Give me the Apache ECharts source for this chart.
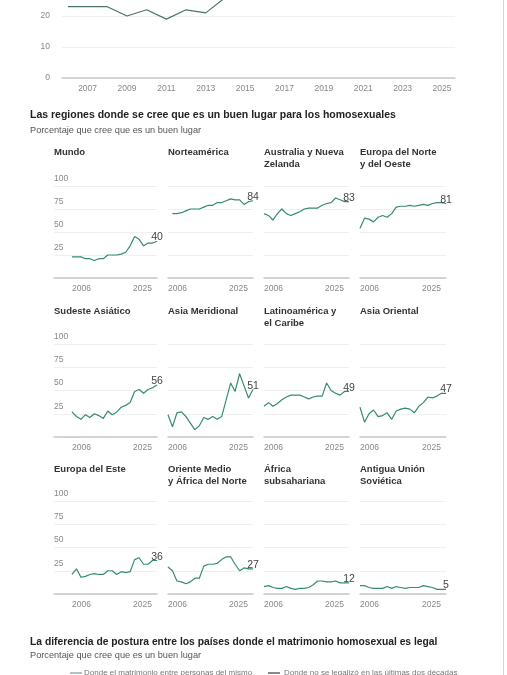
<!DOCTYPE html>
<html>
<head>
<meta charset="UTF-8">
<title>Las regiones donde se cree que es un buen lugar para los homosexuales</title>
<script src="https://cdn.jsdelivr.net/npm/echarts@6/dist/echarts.min.js"></script>
<style>
    html, body { margin: 0; padding: 0; background: #fff; }
    #chart { width: 507px; height: 675px; }
</style>
</head>
<body>
<div id="chart"></div>
<script>
    // grafico superior (solo se ve la parte baja)
    var topYears = [2006, 2007, 2008, 2009, 2010, 2011, 2012, 2013, 2014, 2015, 2016, 2017, 2018, 2019, 2020, 2021, 2022, 2023, 2024];
    var topValues = [23, 23, 23, 20, 22, 19, 22, 21, 26, 29, 25.4, 25.5, 25.6, 28, 33, 37, 36, 37, 38];
    var topTicks = [2007, 2009, 2011, 2013, 2015, 2017, 2019, 2021, 2023, 2025];

    // paneles por region
    var years = [2006, 2007, 2008, 2009, 2010, 2011, 2012, 2013, 2014, 2015, 2016, 2017, 2018, 2019, 2020, 2021, 2022, 2023, 2024, 2025];
    var yTicks = [0, 25, 50, 75, 100];
    var regionNames = [
        'Mundo', 'Norteamérica', 'Australia y Nueva\nZelanda', 'Europa del Norte\ny del Oeste',
        'Sudeste Asiático', 'Asia Meridional', 'Latinoamérica y\nel Caribe', 'Asia Oriental',
        'Europa del Este', 'Oriente Medio\ny África del Norte', 'África\nsubsahariana', 'Antigua Unión\nSoviética'
    ];
    var mundo = [23, 23, 23, 21, 21, 19, 21, 21, 25, 25, 25, 26, 28, 35, 45, 42, 35, 38, 38, 40];
    var norteamerica = [null, 70, 70, 71, 73, 75, 75, 75, 77, 79, 79, 82, 82, 84, 86, 85, 85, 80, 83, 84];
    var australia = [70, 68, 63, 70, 75, 70, 68, 70, 72, 75, 76, 76, 76, 79, 81, 82, 87, 85, 83, 83];
    var europaNO = [54, 65, 64, 61, 66, 68, 66, 70, 77, 78, 78, 79, 78, 79, 80, 79, 81, 82, 82, 81];
    var sudeste = [27, 22, 19, 24, 21, 25, 23, 20, 28, 24, 27, 32, 34, 37, 49, 51, 47, 51, 53, 56];
    var asiaMeridional = [24, 11, 26, 27, 22, 15, 8, 12, 21, 19, 22, 19, 22, 40, 58, 49, 68, 55, 42, 51];
    var latinoamerica = [33, 37, 33, 36, 40, 43, 45, 45, 45, 43, 41, 43, 44, 44, 58, 50, 47, 45, 49, 49];
    var asiaOriental = [32, 16, 25, 29, 22, 23, 26, 19, 28, 30, 31, 30, 26, 33, 37, 43, 42, 44, 47, 47];
    var europaEste = [21, 27, 18, 19, 21, 22, 21, 21, 25, 25, 21, 24, 23, 24, 37, 39, 32, 32, 36, 36];
    var orienteMedio = [29, 25, 14, 13, 11, 13, 17, 17, 30, 32, 32, 33, 37, 40, 40, 32, 25, 28, 27, 27];
    var africaSub = [8, 9, 7, 6, 6, 8, 6, 5, 6, 6, 7, 10, 14, 14, 13, 13, 14, 12, 12, 12];
    var antiguaURSS = [9, 9, 7, 6, 6, 6, 8, 6, 8, 7, 6, 7, 7, 7, 9, 8, 7, 5, 5, 5];
    var regionValues = [mundo, norteamerica, australia, europaNO, sudeste, asiaMeridional,
        latinoamerica, asiaOriental, europaEste, orienteMedio, africaSub, antiguaURSS];

    var legendNames = ['Donde el matrimonio entre personas del mismo', 'Donde no se legalizó en las últimas dos décadas'];

    var font = "'Liberation Sans', Arial, sans-serif";
    var green = '#368d6d';
    var colLeft = [72, 168, 264, 360];
    var colWidth = [85, 85, 85, 86];
    var rowTop = [186, 344, 501];
    var rowHeight = [92, 93, 93];
    var titleTop = [147, 306, 464];
    var titleLeft = [54, 168, 264, 360];

    var myChart = echarts.init(document.getElementById('chart'));

    var grids = [], xAxes = [], yAxes = [], series = [], titles = [];
    function yearText(v) { return String(v); }

    // --- grafico superior ---
    grids.push({ left: 62, width: 393, top: -77, height: 155, outerBoundsMode: 'none' });
    xAxes.push({
        type: 'value', gridIndex: 0, min: 2005.7, max: 2025.66,
        splitLine: { show: false },
        axisTick: { show: false },
        axisLine: { lineStyle: { color: '#c8c8c8', width: 1.5 } },
        axisLabel: { customValues: topTicks, formatter: yearText, color: '#888', fontSize: 8.5, fontFamily: font, margin: 6 }
    });
    yAxes.push({
        type: 'value', gridIndex: 0, min: 0, max: 50, interval: 10,
        axisLine: { show: false }, axisTick: { show: false },
        splitLine: { lineStyle: { color: '#f0f0f0' } },
        axisLabel: { color: '#888', fontSize: 8.5, fontFamily: font, margin: 12 }
    });
    series.push({
        type: 'line', xAxisIndex: 0, yAxisIndex: 0,
        data: topYears.map(function (y, i) { return [y, topValues[i]]; }),
        showSymbol: false, silent: true,
        lineStyle: { color: '#4a746e', width: 1.2 }
    });

    // --- paneles ---
    regionValues.forEach(function (vals, k) {
        var row = Math.floor(k / 4), col = k % 4;
        var gi = grids.length;
        grids.push({ left: colLeft[col], width: colWidth[col], top: rowTop[row], height: rowHeight[row], outerBoundsMode: 'none' });
        xAxes.push({
            type: 'value', gridIndex: gi, min: 2006, max: 2025, interval: 19,
            splitLine: { show: false }, axisTick: { show: false },
            axisLine: { lineStyle: { color: '#c8c8c8', width: 1.5 } },
            axisLabel: {
                formatter: yearText,
                color: '#888', fontSize: 8.5, fontFamily: font, margin: 6,
                alignMinLabel: 'left', alignMaxLabel: 'right', padding: [0, 5, 0, 0]
            }
        });
        yAxes.push({
            type: 'value', gridIndex: gi, min: 0, max: 100, interval: 25,
            axisLine: { show: false }, axisTick: { show: false }, axisLabel: { show: false },
            splitLine: { lineStyle: { color: '#efefef' } }
        });
        var last = vals.length - 1;
        series.push({
            type: 'line', xAxisIndex: gi, yAxisIndex: gi, silent: true,
            showSymbol: true, symbol: 'circle', symbolSize: 0.5,
            itemStyle: { color: green },
            lineStyle: { color: green, width: 1.2 },
            data: vals.map(function (v, i) {
                if (i === last) {
                    return {
                        value: [years[i], v],
                        label: {
                            show: true, position: 'top', distance: -2,
                            color: '#444', fontSize: 10.5, fontFamily: font,
                            formatter: function (p) { return Math.round(p.value[1]); }
                        }
                    };
                }
                return [years[i], v];
            })
        });
        titles.push({
            text: regionNames[k], left: titleLeft[col], top: titleTop[row], padding: 0,
            textStyle: { fontSize: 9.5, fontWeight: 'bold', color: '#333', fontFamily: font, lineHeight: 11.5 }
        });

        // etiquetas del eje y en la primera columna
        if (col === 0) {
            var li = grids.length;
            grids.push({ left: 54, width: 18, top: rowTop[row], height: rowHeight[row], outerBoundsMode: 'none' });
            xAxes.push({
                type: 'value', gridIndex: li, min: 0, max: 1,
                splitLine: { show: false }, axisTick: { show: false }, axisLabel: { show: false },
                axisLine: { lineStyle: { color: '#c8c8c8', width: 1.5 } }
            });
            yAxes.push({
                type: 'value', gridIndex: li, min: yTicks[0], max: yTicks[yTicks.length - 1], interval: 25,
                axisLine: { show: false }, axisTick: { show: false },
                splitLine: { lineStyle: { color: '#efefef' } },
                axisLabel: {
                    inside: true, align: 'left', verticalAlign: 'bottom', margin: 0,
                    padding: [0, 0, 3, 0], showMinLabel: false,
                    color: '#888', fontSize: 8.5, fontFamily: font
                }
            });
        }
    });

    // --- titulos de seccion ---
    titles.push({
        text: 'Las regiones donde se cree que es un buen lugar para los homosexuales',
        left: 30, top: 110, padding: 0,
        textStyle: { fontSize: 10.5, fontWeight: 'bold', color: '#222', fontFamily: font }
    });
    titles.push({
        text: 'Porcentaje que cree que es un buen lugar',
        left: 30, top: 125.5, padding: 0,
        textStyle: { fontSize: 9.2, fontWeight: 'normal', color: '#555', fontFamily: font }
    });
    titles.push({
        text: 'La diferencia de postura entre los países donde el matrimonio homosexual es legal',
        left: 30, top: 637, padding: 0,
        textStyle: { fontSize: 10.3, fontWeight: 'bold', color: '#222', fontFamily: font }
    });
    titles.push({
        text: 'Porcentaje que cree que es un buen lugar',
        left: 30, top: 651, padding: 0,
        textStyle: { fontSize: 9.2, fontWeight: 'normal', color: '#555', fontFamily: font }
    });

    var graphics = [
        { type: 'line', shape: { x1: 503.5, y1: 0, x2: 503.5, y2: 675 }, style: { stroke: '#d4d4d4', lineWidth: 1 } },
        { type: 'line', shape: { x1: 70, y1: 673, x2: 82, y2: 673 }, style: { stroke: '#8fb3a8', lineWidth: 1.5 } },
        { type: 'text', left: 84, top: 669, style: { text: legendNames[0], fill: '#777', font: '8px ' + font } },
        { type: 'line', shape: { x1: 268, y1: 673, x2: 280, y2: 673 }, style: { stroke: '#5b6275', lineWidth: 1.5 } },
        { type: 'text', left: 284, top: 669, style: { text: legendNames[1], fill: '#777', font: '8px ' + font } }
    ];

    var option = {
        backgroundColor: '#fff',
        animation: false,
        title: titles,
        grid: grids,
        xAxis: xAxes,
        yAxis: yAxes,
        series: series,
        graphic: graphics
    };
    myChart.setOption(option);
</script>
</body>
</html>
